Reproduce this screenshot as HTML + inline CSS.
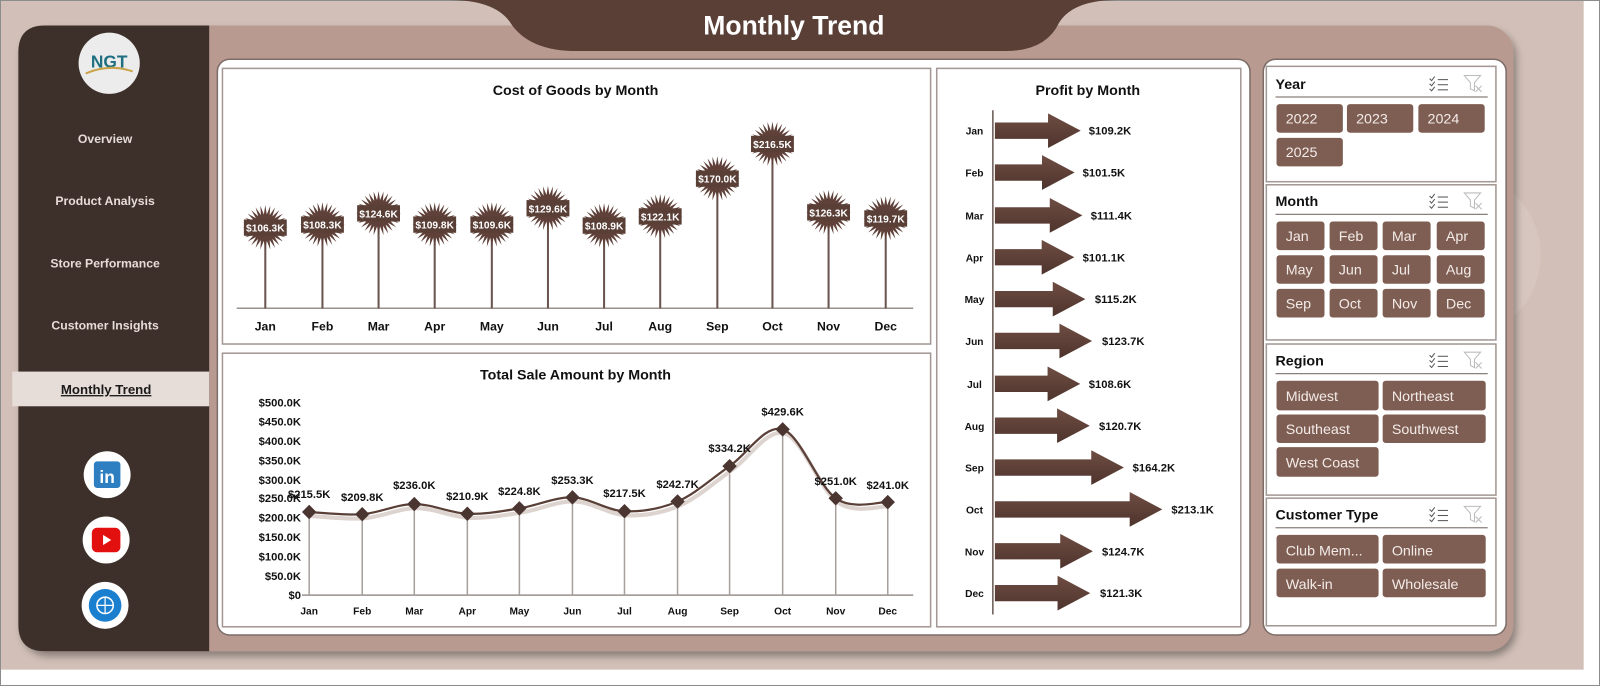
<!DOCTYPE html>
<html><head><meta charset="utf-8"><style>
html,body{margin:0;padding:0;background:#fff;}
svg{display:block;font-family:"Liberation Sans",sans-serif;}
</style></head><body>
<svg id="s" width="1600" height="686" viewBox="0 0 1568 672" preserveAspectRatio="none" xmlns="http://www.w3.org/2000/svg">
<defs>
<symbol id="burst" viewBox="-24 -24 48 48" overflow="visible"><polygon id="bp" fill="#5f4139"/></symbol>
<filter id="sh" x="-5%" y="-5%" width="110%" height="115%"><feDropShadow dx="3" dy="5" stdDeviation="4" flood-color="#000" flood-opacity="0.35"/></filter>
<linearGradient id="ag" x1="0" y1="0" x2="0" y2="1"><stop offset="0" stop-color="#6e4d43"/><stop offset="1" stop-color="#4e342d"/></linearGradient>
</defs>
<rect x="0.5" y="0.5" width="1567" height="671" fill="#fff" stroke="#8c8c8c"/>
<rect x="1" y="1" width="1551" height="655" fill="#d2c0b8"/>
<circle cx="1430" cy="250" r="80" fill="#d7c6bf"/>
<!-- main panel -->
<rect x="18" y="25" width="1465" height="613" rx="26" fill="#b89a90" filter="url(#sh)"/>
<path d="M18 51 Q18 25 44 25 H205 V638 H44 Q18 638 18 612 Z" fill="#3d2f2a"/>
<!-- title tab -->
<path d="M440 0 Q485 0 500 22 Q518 50 565 50 H985 Q1025 50 1038 22 Q1052 0 1095 0 Z" fill="#5a3f37"/>
<text x="778" y="34" text-anchor="middle" font-size="26" font-weight="bold" fill="#fff">Monthly Trend</text>
<!-- logo -->
<circle cx="107" cy="62" r="30" fill="#ececec"/>
<text x="107" y="66" text-anchor="middle" font-size="17" font-weight="bold" fill="#1e6f80">NGT</text>
<path d="M84 72 Q107 62 130 70" stroke="#c9a24a" stroke-width="2" fill="none"/>
<g font-size="12" font-weight="bold" fill="#e6dcd8" text-anchor="middle">
<text x="103" y="140">Overview</text>
<text x="103" y="201">Product Analysis</text>
<text x="103" y="262">Store Performance</text>
<text x="103" y="323">Customer Insights</text>
</g>
<rect x="12" y="364" width="193" height="34" fill="#e6dcd8"/>
<text x="104" y="386" text-anchor="middle" font-size="13" font-weight="bold" fill="#1a1a1a" text-decoration="underline">Monthly Trend</text>
<circle cx="105" cy="465" r="23" fill="#fff"/>
<rect x="92" y="452" width="26" height="26" rx="3" fill="#2e7fc1"/>
<text x="105" y="473" text-anchor="middle" font-size="17" font-weight="bold" fill="#fff">in</text>
<circle cx="104" cy="529" r="23" fill="#fff"/>
<rect x="90" y="517" width="28" height="24" rx="5" fill="#e31010"/>
<polygon points="101,524 101,534 109,529" fill="#fff"/>
<circle cx="103" cy="593" r="23" fill="#fff"/>
<circle cx="103" cy="593" r="16" fill="#1b7fd0"/>
<circle cx="103" cy="593" r="8" fill="none" stroke="#fff" stroke-width="1.5"/>
<path d="M95 593 H111 M103 585 V601" stroke="#fff" stroke-width="1.2"/>
<!-- charts panel -->
<rect x="213" y="58" width="1012" height="564" rx="12" fill="#fff" stroke="#7d6d68" stroke-width="1.5"/>
<rect x="218" y="67" width="694" height="270" fill="#fff" stroke="#a39893" stroke-width="1.5"/>
<rect x="218" y="346" width="694" height="268" fill="#fff" stroke="#a39893" stroke-width="1.5"/>
<rect x="918" y="67" width="298" height="547" fill="#fff" stroke="#a39893" stroke-width="1.5"/>
<!-- chart1 -->
<text x="564" y="93" text-anchor="middle" font-size="14" font-weight="bold" fill="#111">Cost of Goods by Month</text>
<line x1="232" y1="302" x2="895" y2="302" stroke="#9a908c" stroke-width="1.5"/>
<g id="c1"></g>
<g font-size="12" font-weight="bold" fill="#111" text-anchor="middle">
<text x="260" y="324">Jan</text><text x="316" y="324">Feb</text><text x="371" y="324">Mar</text><text x="426" y="324">Apr</text><text x="482" y="324">May</text><text x="537" y="324">Jun</text><text x="592" y="324">Jul</text><text x="647" y="324">Aug</text><text x="703" y="324">Sep</text><text x="757" y="324">Oct</text><text x="812" y="324">Nov</text><text x="868" y="324">Dec</text>
</g>
<g font-size="10" font-weight="bold" fill="#fff" text-anchor="middle">
<text x="260" y="227">$106.3K</text><text x="316" y="224">$108.3K</text><text x="371" y="213">$124.6K</text><text x="426" y="224">$109.8K</text><text x="482" y="224">$109.6K</text><text x="537" y="208">$129.6K</text><text x="592" y="225">$108.9K</text><text x="647" y="216">$122.1K</text><text x="703" y="179">$170.0K</text><text x="757" y="145">$216.5K</text><text x="812" y="212">$126.3K</text><text x="868" y="218">$119.7K</text>
</g>
<!-- chart2 -->
<text x="564" y="372" text-anchor="middle" font-size="14" font-weight="bold" fill="#111">Total Sale Amount by Month</text>
<g font-size="11" font-weight="bold" fill="#111" text-anchor="end">
<text x="295" y="398">$500.0K</text><text x="295" y="417">$450.0K</text><text x="295" y="436">$400.0K</text><text x="295" y="455">$350.0K</text><text x="295" y="474">$300.0K</text><text x="295" y="492">$250.0K</text><text x="295" y="511">$200.0K</text><text x="295" y="530">$150.0K</text><text x="295" y="549">$100.0K</text><text x="295" y="568">$50.0K</text><text x="295" y="587">$0</text>
</g>
<line x1="296" y1="583" x2="895" y2="583" stroke="#9a908c" stroke-width="1.5"/>
<g id="c2"></g>
<g font-size="10" font-weight="bold" fill="#111" text-anchor="middle">
<text x="303" y="602">Jan</text><text x="355" y="602">Feb</text><text x="406" y="602">Mar</text><text x="458" y="602">Apr</text><text x="509" y="602">May</text><text x="561" y="602">Jun</text><text x="612" y="602">Jul</text><text x="664" y="602">Aug</text><text x="715" y="602">Sep</text><text x="767" y="602">Oct</text><text x="819" y="602">Nov</text><text x="870" y="602">Dec</text>
</g>
<g font-size="11" font-weight="bold" fill="#111" text-anchor="middle">
<text x="303" y="488">$215.5K</text><text x="355" y="491">$209.8K</text><text x="406" y="479">$236.0K</text><text x="458" y="490">$210.9K</text><text x="509" y="485">$224.8K</text><text x="561" y="474">$253.3K</text><text x="612" y="487">$217.5K</text><text x="664" y="478">$242.7K</text><text x="715" y="443">$334.2K</text><text x="767" y="407">$429.6K</text><text x="819" y="475">$251.0K</text><text x="870" y="479">$241.0K</text>
</g>
<!-- chart3 -->
<text x="1066" y="93" text-anchor="middle" font-size="14" font-weight="bold" fill="#111">Profit by Month</text>
<line x1="973" y1="108" x2="973" y2="602" stroke="#6a5a55" stroke-width="1.5"/>
<g id="c3"></g>
<g font-size="10" font-weight="bold" fill="#111" text-anchor="middle">
<text x="955" y="132">Jan</text><text x="955" y="173">Feb</text><text x="955" y="215">Mar</text><text x="955" y="256">Apr</text><text x="955" y="297">May</text><text x="955" y="338">Jun</text><text x="955" y="380">Jul</text><text x="955" y="421">Aug</text><text x="955" y="462">Sep</text><text x="955" y="503">Oct</text><text x="955" y="544">Nov</text><text x="955" y="585">Dec</text>
</g>
<g font-size="11" font-weight="bold" fill="#111">
<text x="1067" y="132">$109.2K</text><text x="1061" y="173">$101.5K</text><text x="1069" y="215">$111.4K</text><text x="1061" y="256">$101.1K</text><text x="1073" y="297">$115.2K</text><text x="1080" y="338">$123.7K</text><text x="1067" y="380">$108.6K</text><text x="1077" y="421">$120.7K</text><text x="1110" y="462">$164.2K</text><text x="1148" y="503">$213.1K</text><text x="1080" y="544">$124.7K</text><text x="1078" y="585">$121.3K</text>
</g>
<!-- slicer panel -->
<rect x="1238" y="58" width="238" height="564" rx="12" fill="#fff" stroke="#7d6d68" stroke-width="1.5"/>
<g fill="#fff" stroke="#a39893" stroke-width="1.5">
<rect x="1241" y="65" width="225" height="113"/>
<rect x="1241" y="181" width="225" height="152"/>
<rect x="1241" y="337" width="225" height="148"/>
<rect x="1241" y="488" width="225" height="125"/>
</g>
<g font-size="14" font-weight="bold" fill="#111">
<text x="1250" y="87">Year</text><text x="1250" y="202">Month</text><text x="1250" y="358">Region</text><text x="1250" y="509">Customer Type</text>
</g>
<g stroke="#8a7f7b" stroke-width="1.2">
<line x1="1250" y1="95" x2="1458" y2="95"/><line x1="1250" y1="210" x2="1458" y2="210"/><line x1="1250" y1="366" x2="1458" y2="366"/><line x1="1250" y1="517" x2="1458" y2="517"/>
</g>
<g id="ic"></g>
<g fill="#7e5e53">
<rect x="1251" y="102" width="65" height="28" rx="3"/><rect x="1320" y="102" width="65" height="28" rx="3"/><rect x="1390" y="102" width="65" height="28" rx="3"/><rect x="1251" y="135" width="65" height="28" rx="3"/>
<rect x="1251" y="217" width="47" height="28" rx="3"/><rect x="1303" y="217" width="47" height="28" rx="3"/><rect x="1355" y="217" width="47" height="28" rx="3"/><rect x="1408" y="217" width="47" height="28" rx="3"/>
<rect x="1251" y="250" width="47" height="28" rx="3"/><rect x="1303" y="250" width="47" height="28" rx="3"/><rect x="1355" y="250" width="47" height="28" rx="3"/><rect x="1408" y="250" width="47" height="28" rx="3"/>
<rect x="1251" y="283" width="47" height="28" rx="3"/><rect x="1303" y="283" width="47" height="28" rx="3"/><rect x="1355" y="283" width="47" height="28" rx="3"/><rect x="1408" y="283" width="47" height="28" rx="3"/>
<rect x="1251" y="373" width="100" height="29" rx="3"/><rect x="1355" y="373" width="101" height="29" rx="3"/><rect x="1251" y="406" width="100" height="28" rx="3"/><rect x="1355" y="406" width="101" height="28" rx="3"/><rect x="1251" y="438" width="100" height="29" rx="3"/>
<rect x="1251" y="524" width="100" height="28" rx="3"/><rect x="1355" y="524" width="101" height="28" rx="3"/><rect x="1251" y="557" width="100" height="28" rx="3"/><rect x="1355" y="557" width="101" height="28" rx="3"/>
</g>
<g font-size="14" fill="#f3ebe8">
<text x="1260" y="121">2022</text><text x="1329" y="121">2023</text><text x="1399" y="121">2024</text><text x="1260" y="154">2025</text>
<text x="1260" y="236">Jan</text><text x="1312" y="236">Feb</text><text x="1364" y="236">Mar</text><text x="1417" y="236">Apr</text>
<text x="1260" y="269">May</text><text x="1312" y="269">Jun</text><text x="1364" y="269">Jul</text><text x="1417" y="269">Aug</text>
<text x="1260" y="302">Sep</text><text x="1312" y="302">Oct</text><text x="1364" y="302">Nov</text><text x="1417" y="302">Dec</text>
<text x="1260" y="393">Midwest</text><text x="1364" y="393">Northeast</text><text x="1260" y="425">Southeast</text><text x="1364" y="425">Southwest</text><text x="1260" y="458">West Coast</text>
<text x="1260" y="544">Club Mem...</text><text x="1364" y="544">Online</text><text x="1260" y="577">Walk-in</text><text x="1364" y="577">Wholesale</text>
</g>
<script>
var NS="http://www.w3.org/2000/svg";
function el(t,a,p){var e=document.createElementNS(NS,t);for(var k in a)e.setAttribute(k,a[k]);p.appendChild(e);return e;}
var pts=[];for(var i=0;i<56;i++){var r=i%2?13:22;var a=i*Math.PI/28;pts.push((r*Math.cos(a)).toFixed(2)+","+(r*Math.sin(a)).toFixed(2));}
document.getElementById("bp").setAttribute("points",pts.join(" "));
var c1=document.getElementById("c1");
var x1=[260,316,371,426,482,537,592,647,703,757,812,868],y1=[223,220,209,220,220,204,221,212,175,141,208,214];
for(i=0;i<12;i++){el("line",{x1:x1[i],y1:y1[i],x2:x1[i],y2:302,stroke:"#6a5550","stroke-width":2},c1);
el("use",{href:"#burst",x:x1[i]-24,y:y1[i]-24,width:48,height:48},c1);
el("rect",{x:x1[i]-21,y:y1[i]-8,width:42,height:16,fill:"#5a3f37"},c1);}
var c2=document.getElementById("c2");
var v=[215.5,209.8,236.0,210.9,224.8,253.3,217.5,242.7,334.2,429.6,251.0,241.0];
var x2=[303,355,406,458,509,561,612,664,715,767,819,870],y2=v.map(function(q){return 583-q*0.378;});
for(i=0;i<12;i++)el("line",{x1:x2[i],y1:y2[i],x2:x2[i],y2:583,stroke:"#a8a09c","stroke-width":1.5},c2);
var d="M"+x2[0]+" "+y2[0];
for(i=0;i<11;i++){var p0=i?i-1:0,p3=i+2<12?i+2:11;
var cx1=x2[i]+(x2[i+1]-x2[p0])/6,cy1=y2[i]+(y2[i+1]-y2[p0])/6,cx2=x2[i+1]-(x2[p3]-x2[i])/6,cy2=y2[i+1]-(y2[p3]-y2[i])/6;
d+=" C"+cx1+" "+cy1+" "+cx2+" "+cy2+" "+x2[i+1]+" "+y2[i+1];}
el("path",{d:d,fill:"none",stroke:"#ddd3cf","stroke-width":4,transform:"translate(2,4)"},c2);
el("path",{d:d,fill:"none",stroke:"#5a3f37","stroke-width":2.2},c2);
for(i=0;i<12;i++)el("rect",{x:x2[i]-5,y:y2[i]-5,width:10,height:10,fill:"#4a3530",transform:"rotate(45 "+x2[i]+" "+y2[i]+")"},c2);
var c3=document.getElementById("c3");
var pv=[109.2,101.5,111.4,101.1,115.2,123.7,108.6,120.7,164.2,213.1,124.7,121.3],py=[128,169,211,252,293,334,376,417,458,499,540,581];
for(i=0;i<12;i++){var t=975+pv[i]*0.77,b=t-32,y=py[i];
el("polygon",{points:"975,"+(y-8)+" "+b+","+(y-8)+" "+b+","+(y-17)+" "+t+","+y+" "+b+","+(y+17)+" "+b+","+(y+8)+" 975,"+(y+8),fill:"url(#ag)"},c3);}
var ic=document.getElementById("ic");
[82,197,353,504].forEach(function(y){
for(var j=0;j<3;j++){el("path",{d:"M1401 "+(y-5+j*5)+" l2 2 l3 -4",stroke:"#555",fill:"none","stroke-width":1},ic);
el("line",{x1:1409,y1:y-4+j*5,x2:1419,y2:y-4+j*5,stroke:"#555","stroke-width":1},ic);}
el("path",{d:"M1435 "+(y-8)+" h16 l-6 7 v8 l-4 -2 v-6 z",stroke:"#bbb",fill:"none","stroke-width":1},ic);
el("path",{d:"M1446 "+(y+2)+" l6 6 M1452 "+(y+2)+" l-6 6",stroke:"#bbb","stroke-width":1},ic);});
</script>
</svg>
</body></html>
